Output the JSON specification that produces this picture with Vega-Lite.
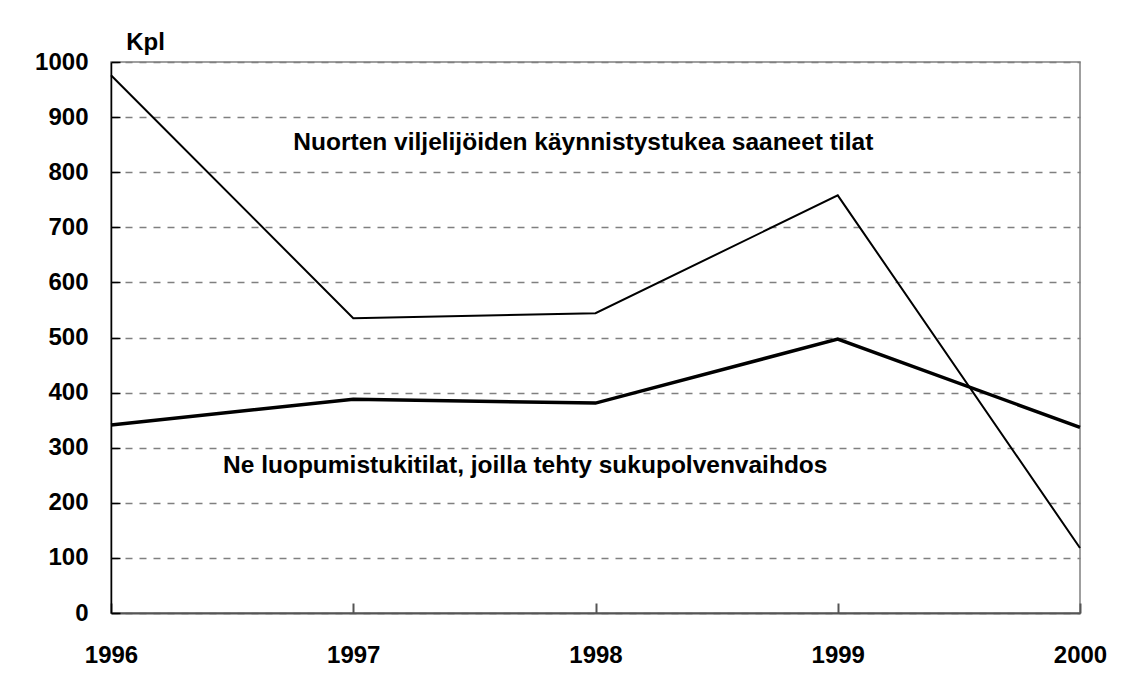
{
  "$schema": "https://vega.github.io/schema/vega-lite/v6.json",
  "autosize": "none",
  "width": 969,
  "height": 551,
  "padding": {"left": 111, "top": 62, "right": 43, "bottom": 70},
  "background": "white",
  "config": {
    "font": "Liberation Sans",
    "view": {"stroke": "#808080", "strokeWidth": 1.5},
    "axis": {"labelFont": "Liberation Sans", "labelFontWeight": "bold", "labelFontSize": 24, "labelColor": "black", "titleFont": "Liberation Sans"}
  },
  "datasets": {
    "series": [
      {"year": 1996, "value": 976, "series": "Nuorten"},
      {"year": 1997, "value": 535, "series": "Nuorten"},
      {"year": 1998, "value": 544, "series": "Nuorten"},
      {"year": 1999, "value": 758, "series": "Nuorten"},
      {"year": 2000, "value": 118, "series": "Nuorten"},
      {"year": 1996, "value": 341, "series": "Luopuminen"},
      {"year": 1997, "value": 388, "series": "Luopuminen"},
      {"year": 1998, "value": 381, "series": "Luopuminen"},
      {"year": 1999, "value": 497, "series": "Luopuminen"},
      {"year": 2000, "value": 337, "series": "Luopuminen"}
    ],
    "labels": [
      {"year": 1997.95, "value": 853, "text": "Nuorten viljelijöiden käynnistystukea saaneet tilat"},
      {"year": 1997.71, "value": 267, "text": "Ne luopumistukitilat, joilla tehty sukupolvenvaihdos"}
    ]
  },
  "layer": [
    {
      "data": {"name": "series"},
      "transform": [{"filter": "datum.series === 'Nuorten'"}],
      "mark": {"type": "line", "color": "black", "strokeWidth": 2},
      "encoding": {
        "x": {
          "field": "year", "type": "quantitative",
          "scale": {"domain": [1996, 2000], "nice": false, "zero": false},
          "axis": {
            "title": null, "values": [1996, 1997, 1998, 1999, 2000], "format": "d",
            "grid": false, "domainColor": "#555555", "domainWidth": 2,
            "tickColor": "#555555", "tickWidth": 2, "tickSize": -10,
            "labelPadding": 40, "labelFlush": false
          }
        },
        "y": {
          "field": "value", "type": "quantitative",
          "scale": {"domain": [0, 1000], "nice": false},
          "axis": {
            "values": [0, 100, 200, 300, 400, 500, 600, 700, 800, 900, 1000], "format": "d",
            "grid": true, "gridColor": "#808080", "gridDash": [7, 7], "gridWidth": 1.5,
            "domainColor": "black", "domainWidth": 1.5,
            "tickColor": "black", "tickSize": -9, "tickWidth": 1.5,
            "labelPadding": 32,
            "title": "Kpl", "titleAngle": 0, "titleX": 34, "titleY": -20,
            "titleAlign": "center", "titleBaseline": "middle",
            "titleFontSize": 24, "titleFontWeight": "bold", "titleColor": "black"
          }
        }
      }
    },
    {
      "data": {"name": "series"},
      "transform": [{"filter": "datum.series === 'Luopuminen'"}],
      "mark": {"type": "line", "color": "black", "strokeWidth": 3.5},
      "encoding": {
        "x": {"field": "year", "type": "quantitative"},
        "y": {"field": "value", "type": "quantitative"}
      }
    },
    {
      "data": {"name": "labels"},
      "mark": {"type": "text", "font": "Liberation Sans", "fontWeight": "bold", "fontSize": 24.5, "color": "black", "align": "center", "baseline": "middle"},
      "encoding": {
        "x": {"field": "year", "type": "quantitative"},
        "y": {"field": "value", "type": "quantitative"},
        "text": {"field": "text"}
      }
    }
  ]
}
